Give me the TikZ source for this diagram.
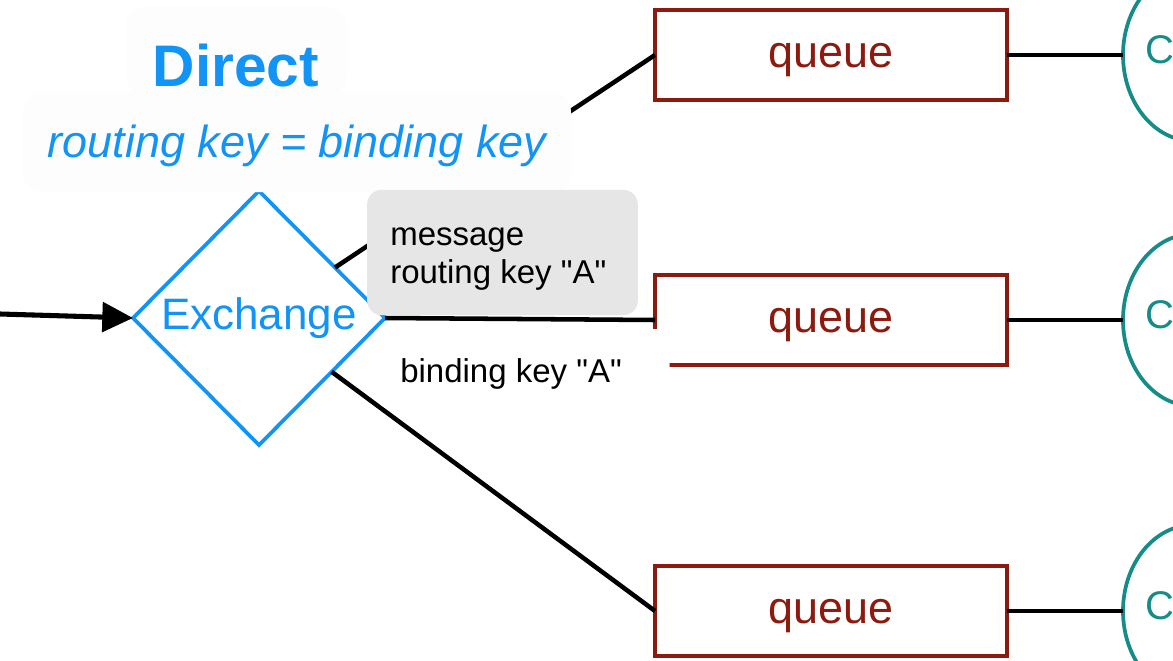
\documentclass[tikz,border=0pt]{standalone}
\usepackage{fontspec}
\setmainfont{Liberation Sans}[Ligatures=TeXOff]
\usetikzlibrary{shapes.geometric,arrows.meta}
\definecolor{exblue}{RGB}{18,148,246}
\definecolor{qred}{RGB}{140,26,14}
\definecolor{cteal}{RGB}{22,140,136}
\definecolor{boxgray}{RGB}{230,230,230}
\definecolor{faint}{RGB}{254,253,254}
\begin{document}
\begin{tikzpicture}[x=0.75pt,y=-0.75pt,
  conn/.style={draw=black,line width=3.4pt},
  inarrow/.style={draw=black,line width=3.8pt,-{Triangle[length=23pt,width=22pt]}},
  exch/.style={shape=diamond,draw=exblue,line width=2.8pt,minimum width=189pt,minimum height=190.5pt,inner sep=0pt,outer sep=0pt,text=exblue,font=\fontsize{33}{38}\selectfont},
  queuebox/.style={draw=qred,line width=3.4pt,rectangle,minimum width=264pt,minimum height=67.5pt,inner sep=0pt,outer sep=0pt,text=qred,font=\fontsize{33.7}{40}\selectfont,text depth=0pt},
  consumer/.style={draw=cteal,line width=2.8pt,ellipse,minimum width=105pt,minimum height=129pt,inner sep=0pt,outer sep=0pt},
  clabel/.style={text=cteal,font=\fontsize{30}{36}\selectfont,inner sep=0pt,text depth=0pt},
  graybox/.style={fill=boxgray,rounded corners=11pt,minimum width=203pt,minimum height=94pt,inner sep=0pt},
  whitebox/.style={fill=white,rounded corners=11pt,minimum width=220pt,minimum height=60pt,inner sep=0pt},
  smalltext/.style={font=\fontsize{24.75}{28.5}\selectfont,inner sep=0pt,text=black},
  titletext/.style={font=\fontsize{44}{50}\bfseries\selectfont,text=exblue,inner sep=0pt},
  subtitle/.style={font=\fontsize{33.7}{40}\itshape\selectfont,text=exblue,inner sep=0pt}
]
\useasboundingbox (0,0) rectangle (1173,660);
\fill[white] (0,0) rectangle (1173,660);

% exchange, queues, consumers
\node[exch] (ex) at (259,318) {Exchange};
\node[queuebox] (q1) at (831,55) {queue};
\node[queuebox] (q2) at (831,320) {queue};
\node[queuebox] (q3) at (831,611) {queue};
\node[consumer] (c1) at (1193,55) {};
\node[consumer] (c2) at (1193,320) {};
\node[consumer] (c3) at (1193,611) {};
\node[clabel] (cl1) at (1160,50) {C};
\node[clabel] (cl2) at (1160,315) {C};
\node[clabel] (cl3) at (1160,606) {C};

% connectors
\coordinate (in) at (0,314);
\draw[inarrow] (in) -- (ex.west);
\draw[conn] (ex) -- (q1.west);
\draw[conn] (ex.east) -- (q2.west);
\draw[conn] (ex) -- (q3.west);
\draw[conn] (q1.east) -- (c1.west);
\draw[conn] (q2.east) -- (c2.west);
\draw[conn] (q3.east) -- (c3.west);

% faint title backgrounds
\fill[faint,rounded corners=15pt] (126,7) rectangle (347,95);
\fill[faint,rounded corners=15pt] (23,92) rectangle (571,192);
\node[titletext] (title) at (236,66) {Direct};
\node[subtitle,anchor=base] (sub) at (297,157) {routing key = binding key};

% message box
\node[graybox] (msg) at (502.5,252.5) {};
\node[smalltext,anchor=base west] (msg1) at (390,245) {message};
\node[smalltext,anchor=base west] (msg2) at (390,283) {routing key "A"};

% binding key box
\node[whitebox] (bind) at (523,369) {};
\node[smalltext,anchor=base west] (bindtext) at (400,382) {binding key "A"};
\end{tikzpicture}
\end{document}
